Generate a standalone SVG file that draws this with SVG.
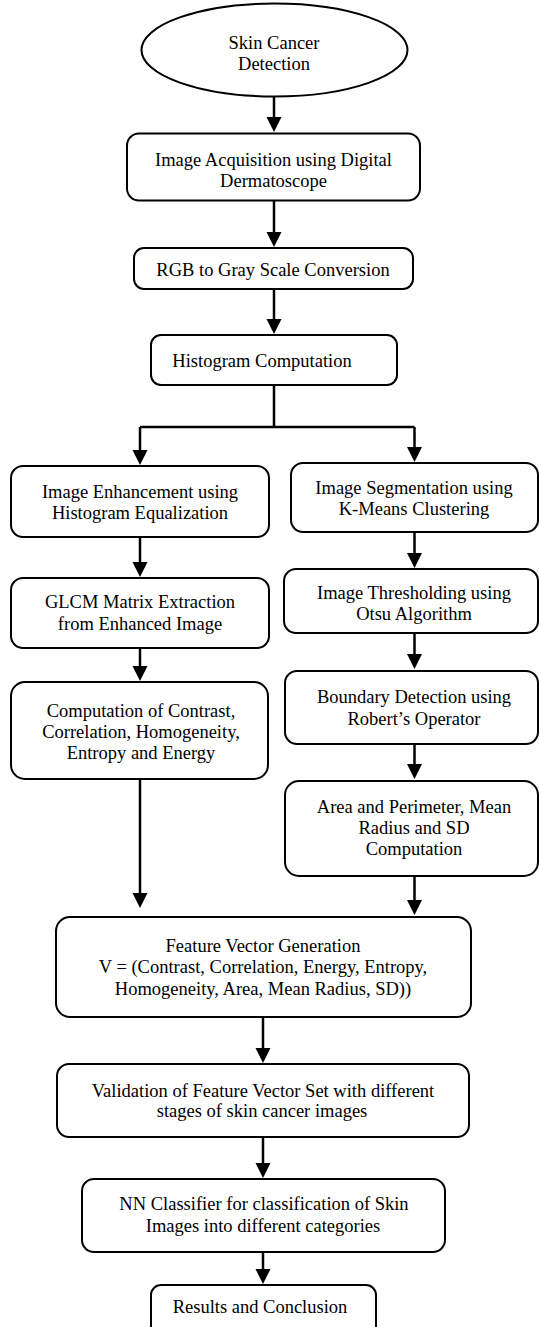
<svg xmlns="http://www.w3.org/2000/svg" width="539" height="1327" viewBox="0 0 539 1327">
<style>
.box{fill:#fff;stroke:#000;stroke-width:2}
.t{font-family:"Liberation Serif","Times New Roman",serif;font-size:18.5px;fill:#000;text-anchor:middle}
.c{fill:none;stroke:#000;stroke-width:2.5}
.a{marker-end:url(#ah)}
</style>
<defs>
<marker id="ah" markerUnits="userSpaceOnUse" markerWidth="16" markerHeight="16" refX="1" refY="7.5" orient="auto">
<path d="M0,0 L15,7.5 L0,15 z" fill="#000"/>
</marker>
</defs>
<rect width="539" height="1327" fill="#fff"/>
<g id="connectors">
<path class="c a" d="M274,97 V118"/>
<path class="c a" d="M274,201 V233"/>
<path class="c a" d="M274,289 V320"/>
<path class="c" d="M274,385 V427 M140,427 H414.5"/>
<path class="c a" d="M140,427 V451"/>
<path class="c a" d="M414.5,427 V448"/>
<path class="c a" d="M140,537 V563"/>
<path class="c a" d="M140,648 V667"/>
<path class="c a" d="M140,779 V894"/>
<path class="c a" d="M414.5,532 V554"/>
<path class="c a" d="M414.5,633 V655"/>
<path class="c a" d="M414.5,744 V765"/>
<path class="c a" d="M414.5,876 V901"/>
<path class="c a" d="M263,1017 V1049"/>
<path class="c a" d="M263,1137 V1164"/>
<path class="c a" d="M263,1252 V1270"/>
</g>
<g id="start">
<ellipse class="box" cx="274.5" cy="50" rx="133" ry="46.5"/>
<text class="t" x="274" y="49">Skin Cancer</text>
<text class="t" x="274" y="70">Detection</text>
</g>
<g id="acquisition">
<rect class="box" x="127" y="133.5" width="293" height="67" rx="12"/>
<text class="t" x="273.5" y="166">Image Acquisition using Digital</text>
<text class="t" x="273.5" y="187">Dermatoscope</text>
</g>
<g id="rgb">
<rect class="box" x="134" y="248" width="279" height="41" rx="10"/>
<text class="t" x="273" y="276">RGB to Gray Scale Conversion</text>
</g>
<g id="histogram">
<rect class="box" x="151" y="335" width="246" height="50" rx="10"/>
<text class="t" x="262" y="367">Histogram Computation</text>
</g>
<g id="enhancement">
<rect class="box" x="11" y="466" width="258" height="71" rx="12"/>
<text class="t" x="140" y="498">Image Enhancement using</text>
<text class="t" x="140" y="519">Histogram Equalization</text>
</g>
<g id="glcm">
<rect class="box" x="11" y="578" width="258" height="70" rx="12"/>
<text class="t" x="140" y="608">GLCM Matrix Extraction</text>
<text class="t" x="140" y="630">from Enhanced Image</text>
</g>
<g id="computation">
<rect class="box" x="11" y="682" width="257" height="97" rx="14"/>
<text class="t" x="141" y="717">Computation of Contrast,</text>
<text class="t" x="141" y="738">Correlation, Homogeneity,</text>
<text class="t" x="141" y="759">Entropy and Energy</text>
</g>
<g id="segmentation">
<rect class="box" x="291" y="463" width="247" height="69" rx="12"/>
<text class="t" x="414" y="494">Image Segmentation using</text>
<text class="t" x="414" y="515">K-Means Clustering</text>
</g>
<g id="thresholding">
<rect class="box" x="284" y="569" width="254" height="64" rx="12"/>
<text class="t" x="414" y="599">Image Thresholding using</text>
<text class="t" x="414" y="620">Otsu Algorithm</text>
</g>
<g id="boundary">
<rect class="box" x="285" y="671" width="253" height="73" rx="12"/>
<text class="t" x="414" y="703">Boundary Detection using</text>
<text class="t" x="414" y="725">Robert’s Operator</text>
</g>
<g id="area">
<rect class="box" x="285" y="781" width="253" height="95" rx="14"/>
<text class="t" x="414" y="813">Area and Perimeter, Mean</text>
<text class="t" x="414" y="834">Radius and SD</text>
<text class="t" x="414" y="855">Computation</text>
</g>
<g id="feature">
<rect class="box" x="56" y="917" width="415" height="100" rx="14"/>
<text class="t" x="263" y="952">Feature Vector Generation</text>
<text class="t" x="263" y="973">V = (Contrast, Correlation, Energy, Entropy,</text>
<text class="t" x="263" y="995">Homogeneity, Area, Mean Radius, SD))</text>
</g>
<g id="validation">
<rect class="box" x="57" y="1064" width="412" height="73" rx="12"/>
<text class="t" x="263" y="1097">Validation of Feature Vector Set with different</text>
<text class="t" x="262" y="1117">stages of skin cancer images</text>
</g>
<g id="classifier">
<rect class="box" x="82" y="1179" width="363" height="73" rx="12"/>
<text class="t" x="264" y="1210">NN Classifier for classification of Skin</text>
<text class="t" x="263" y="1232">Images into different categories</text>
</g>
<g id="results">
<rect class="box" x="151" y="1285" width="225" height="60" rx="10"/>
<text class="t" x="260" y="1313">Results and Conclusion</text>
</g>
</svg>
